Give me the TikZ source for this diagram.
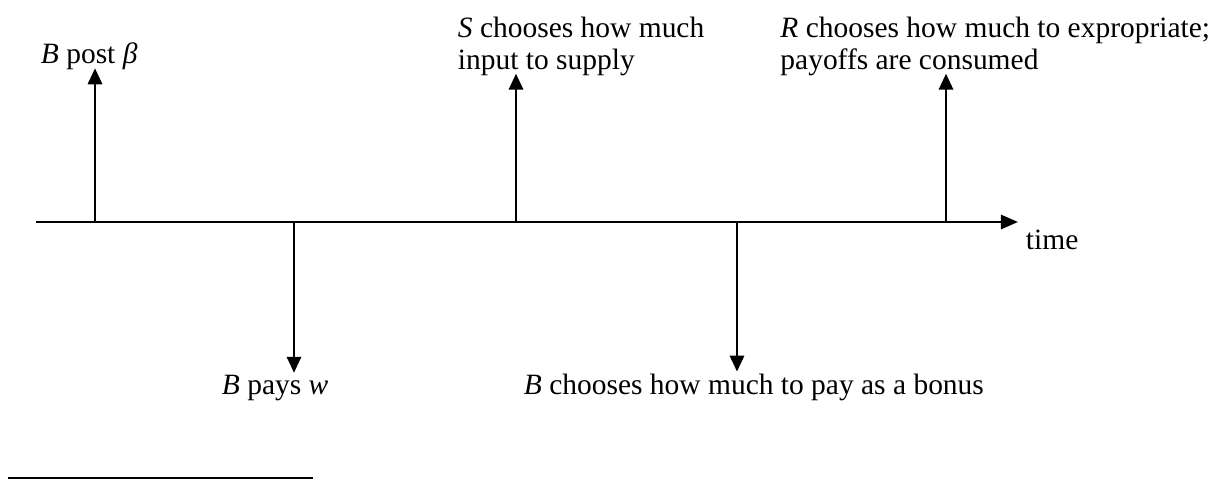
\documentclass[tikz,border=0pt]{standalone}
\usepackage{fontspec}
\setmainfont{Liberation Serif}
\usetikzlibrary{arrows.meta, positioning}

\begin{document}
\begin{tikzpicture}[
    x=0.01431cm, y=-0.01431cm,
    axis/.style={line width=1pt, -{Triangle[length=7pt, width=5.8pt]}},
    event/.style={line width=1pt, -{Triangle[length=6.5pt, width=5.8pt]}},
    upevent/.style={event, shorten >=-2pt},
    label/.style={font=\fontsize{12}{13}\selectfont, align=left, inner sep=1pt},
    footrule/.style={line width=0.6pt}
]
    \useasboundingbox (0,0) rectangle (1212,481);

    % time axis
    \coordinate (start) at (36,222);
    \coordinate (end) at (1018,222);
    \draw[axis] (start) -- (end);
    \node[label, anchor=base west] (time) at (1023,250) {time};

    % points on the axis
    \coordinate (post) at (95,222);
    \coordinate (wage) at (294,222);
    \coordinate (supply) at (516,222);
    \coordinate (bonus) at (737,222);
    \coordinate (expro) at (946,222);

    % events above the axis
    \node[label, anchor=base west] (postlbl) at (38,64) {\textit{B} post \textit{β}};
    \node[label, anchor=north west] (supplylbl) at (455,14) {\textit{S} chooses how much\\input to supply};
    \node[label, anchor=north west] (exprolbl) at (777.5,14) {\textit{R} chooses how much to expropriate;\\payoffs are consumed};
    \draw[upevent] (post) -- (post |- postlbl.south);
    \draw[upevent] (supply) -- (supply |- supplylbl.south);
    \draw[upevent] (expro) -- (expro |- exprolbl.south);

    % events below the axis
    \node[label, anchor=base west] (wagelbl) at (219,395) {\textit{B} pays \textit{w}};
    \node[label, anchor=base west] (bonuslbl) at (521,395) {\textit{B} chooses how much to pay as a bonus};
    \draw[event] (wage) -- (wage |- wagelbl.north);
    \draw[event] (bonus) -- (bonus |- bonuslbl.north);

    % footnote rule
    \draw[footrule] (8,478) -- (313,478);
\end{tikzpicture}
\end{document}
